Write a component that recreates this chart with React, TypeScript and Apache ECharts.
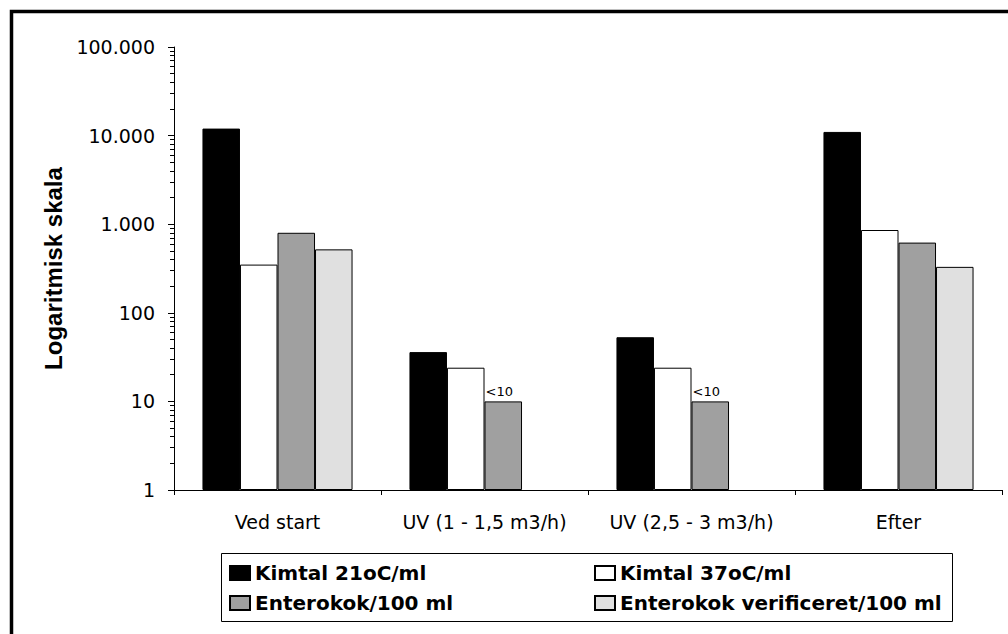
import React, { useEffect, useRef } from 'react';
import * as echarts from 'echarts';

const categories = ['Ved start', 'UV (1 - 1,5 m3/h)', 'UV (2,5 - 3 m3/h)', 'Efter'];
const seriesNames = ['Kimtal 21oC/ml', 'Kimtal 37oC/ml', 'Enterokok/100 ml', 'Enterokok verificeret/100 ml'];
const kimtal21 = [12000, 36, 53, 11000];
const kimtal37 = [350, 24, 24, 860];
const enterokok = [800, 10, 10, 620];
const enterokokVerificeret: (number | null)[] = [520, null, null, 330];
const belowDetection = [false, true, true, false];
const belowLabel = '<10';
const yMin = 1;
const yMax = 100000;

const colors = ['#000000', '#ffffff', '#a0a0a0', '#e0e0e0'];

const fmt = (v: number) => String(Math.round(v)).replace(/\B(?=(\d{3})+(?!\d))/g, '.');

// minor tick positions (log10 of k*10^n), for the hidden linear helper axis
const minorTicks: number[] = [];
for (let n = 0; n < Math.log10(yMax); n++) {
  for (let k = 2; k <= 9; k++) minorTicks.push(n + Math.log10(k));
}

export default function App() {
  const ref = useRef<HTMLDivElement>(null);
  useEffect(() => {
    if (!ref.current) return;
    const chart = echarts.init(ref.current, null, { renderer: 'svg' });
    const font = 'DejaVu Sans';
    const mk = (name: string, data: (number | null)[], color: string, extra: any = {}) => ({
      name,
      type: 'bar',
      data: data.map((v) => (v == null ? '-' : v)),
      barGap: '0%',
      barCategoryGap: '27.5%',
      itemStyle: { color, borderColor: '#000', borderWidth: 1 },
      ...extra,
    });
    chart.setOption({
      animation: false,
      backgroundColor: '#fff',
      grid: { left: 174, right: 6, top: 47, bottom: 144, containLabel: false },
      xAxis: {
        type: 'category',
        data: categories,
        axisLine: { lineStyle: { color: '#000', width: 1 } },
        axisTick: { show: true, length: 5, interval: 0, alignWithLabel: false, lineStyle: { color: '#000' } },
        axisLabel: { color: '#000', fontFamily: font, fontSize: 19, margin: 22, interval: 0 },
        splitLine: { show: false },
      },
      yAxis: [
        {
          type: 'log',
          logBase: 10,
          min: yMin,
          max: yMax,
          name: 'Logaritmisk skala',
          nameLocation: 'middle',
          nameGap: 100,
          nameTextStyle: { color: '#000', fontFamily: 'Liberation Sans', fontWeight: 'bold', fontSize: 24 },
          axisLine: { show: true, lineStyle: { color: '#000', width: 1 } },
          axisTick: { show: true, length: 6, lineStyle: { color: '#000' } },
          axisLabel: { color: '#000', fontFamily: font, fontSize: 19, margin: 19, formatter: (v: number) => fmt(v) },
          splitLine: { show: false },
        },
        {
          type: 'value',
          min: 0,
          max: Math.log10(yMax),
          position: 'left',
          axisLine: { show: false },
          axisLabel: { show: false },
          splitLine: { show: false },
          axisTick: { show: true, length: 4, lineStyle: { color: '#000' }, customValues: minorTicks },
        },
      ],
      legend: [
        {
          data: [seriesNames[0], seriesNames[2]],
          orient: 'vertical',
          left: 229,
          top: 563,
          padding: 0,
          itemGap: 10,
          itemWidth: 20,
          itemHeight: 14,
          itemTextGap: 4,
          icon: 'rect',
          textStyle: { color: '#000', fontFamily: font, fontWeight: 'bold', fontSize: 20, lineHeight: 20 },
        },
        {
          data: [seriesNames[1], seriesNames[3]],
          orient: 'vertical',
          left: 594,
          top: 563,
          padding: 0,
          itemGap: 10,
          itemWidth: 20,
          itemHeight: 14,
          itemTextGap: 4,
          icon: 'rect',
          textStyle: { color: '#000', fontFamily: font, fontWeight: 'bold', fontSize: 20, lineHeight: 20 },
        },
      ],
      graphic: [
        {
          type: 'rect',
          shape: { x: 221.5, y: 553.5, width: 731, height: 68 },
          style: { fill: 'none', stroke: '#000', lineWidth: 1 },
          silent: true,
        },
        {
          type: 'rect',
          shape: { x: 11.5, y: 11.5, width: 1100, height: 700 },
          style: { fill: 'none', stroke: '#000', lineWidth: 3.5 },
          silent: true,
        },
      ],
      series: [
        mk(seriesNames[0], kimtal21, colors[0]),
        mk(seriesNames[1], kimtal37, colors[1]),
        mk(seriesNames[2], enterokok, colors[2], {
          label: {
            show: true,
            position: 'top',
            distance: 3,
            offset: [-4, 0],
            color: '#000',
            fontFamily: font,
            fontSize: 13,
            formatter: (p: any) => (belowDetection[p.dataIndex] ? belowLabel : ''),
          },
        }),
        mk(seriesNames[3], enterokokVerificeret, colors[3]),
      ],
    });
    return () => chart.dispose();
  }, []);
  return <div ref={ref} style={{ position: 'absolute', left: 0, top: 0, width: 1008, height: 634 }} />;
}
